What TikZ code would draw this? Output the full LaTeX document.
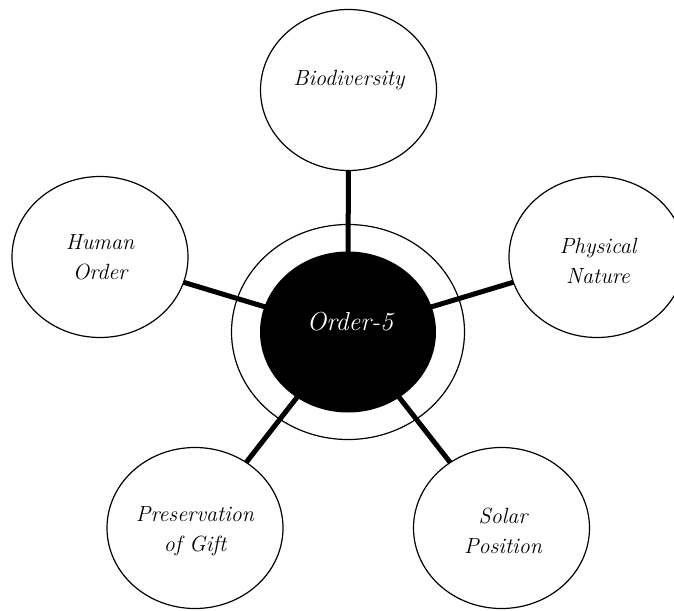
\documentclass[tikz,border=0pt]{standalone}
\usepackage{tikz}
\usetikzlibrary{shapes.geometric}
\tikzset{
  bubble/.style={draw=black, line width=1.2pt, fill=white, ellipse, inner sep=0pt, minimum width=176pt, minimum height=161pt},
  hub/.style={fill=black, ellipse, inner sep=0pt, minimum width=176pt, minimum height=161pt},
  ring/.style={draw=black, line width=1.2pt, ellipse, inner sep=0pt, minimum width=233pt, minimum height=215pt},
  conn/.style={line width=5pt, black},
  lbl/.style={font=\fontsize{22}{30}\selectfont\itshape, align=center, inner sep=0pt},
  hublbl/.style={font=\fontsize{26}{30}\selectfont\itshape, text=white, inner sep=0pt}
}
\begin{document}
\begin{tikzpicture}[x=1pt,y=-1pt]
\useasboundingbox (0,0) rectangle (674,610);
\coordinate (cC) at (348,332);
\coordinate (cB) at (348.5,90);
\coordinate (cH) at (100,257);
\coordinate (cP) at (597,257);
\coordinate (cG) at (195,528);
\coordinate (cS) at (501.5,528);
\draw[conn] (cC) -- (cB);
\draw[conn] (cC) -- (cH);
\draw[conn] (cC) -- (cP);
\draw[conn] (cC) -- (cG);
\draw[conn] (cC) -- (cS);
\node[bubble] (bio) at (cB) {};
\node[bubble] (hum) at (cH) {};
\node[bubble] (phy) at (cP) {};
\node[bubble] (pre) at (cG) {};
\node[bubble] (sol) at (cS) {};
\node[ring] (rng) at (cC) {};
\node[hub] (hub) at (cC) {};
\node[lbl] (tbio) at (349,80) {Biodiversity};
\node[lbl] (thum) at (100,257) {Human\\Order};
\node[lbl] (tphy) at (598,261) {Physical\\Nature};
\node[lbl] (tpre) at (195,531) {Preservation\\of Gift};
\node[lbl] (tsol) at (503,531) {Solar\\Position};
\node[hublbl] (thub) at (350,322) {Order-5};
\end{tikzpicture}
\end{document}
